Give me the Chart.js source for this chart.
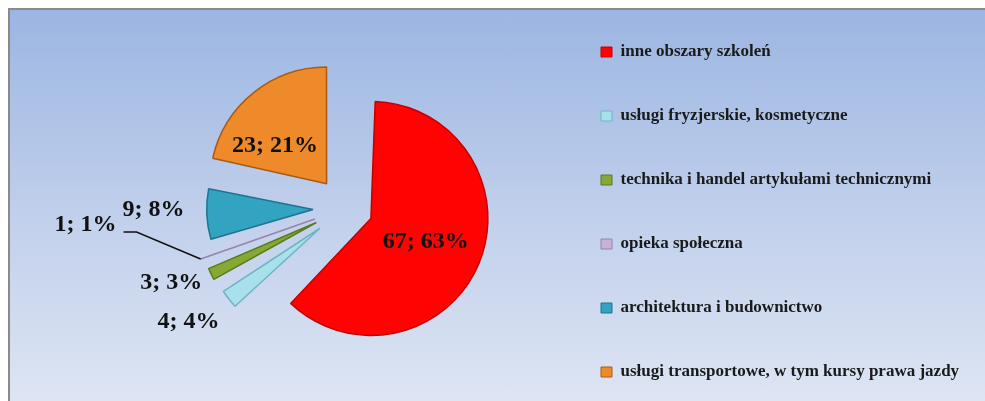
<!DOCTYPE html>
<html>
<head>
<meta charset="utf-8">
<script src="https://cdn.jsdelivr.net/npm/chart.js@4.4.1/dist/chart.umd.min.js"></script>
<style>
    html, body {
        margin: 0;
        padding: 0;
        width: 985px;
        height: 401px;
        overflow: hidden;
        background: #ffffff;
    }
    .frame {
        position: absolute;
        left: 8px;
        top: 8px;
        width: 990px;
        height: 400px;
        border-left: 2px solid #8a8a8a;
        border-top: 2px solid #8a8a8a;
        background: linear-gradient(to bottom, #9cb6e2 0%, #c3d1ec 55%, #dfe6f4 100%);
    }
    .chart-box {
        position: absolute;
        left: 0;
        top: -17px;
        width: 985px;
        height: 450px;
    }
</style>
</head>
<body>
<div class="frame"></div>
<div class="chart-box"><canvas id="pieBig"></canvas></div>
<div class="chart-box"><canvas id="pieMain"></canvas></div>

<script>
// Data
const categories = [
    'inne obszary szkoleń',
    'usługi fryzjerskie, kosmetyczne',
    'technika i handel artykułami technicznymi',
    'opieka społeczna',
    'architektura i budownictwo',
    'usługi transportowe, w tym kursy prawa jazdy'
];
const counts = [67, 4, 3, 1, 9, 23];

// Styles
const sliceColors = ['#ff0202', '#a8e1ec', '#86a834', '#c9b2d8', '#33a3c2', '#ef8a2b'];
const sliceBorders = ['#c40000', '#6fb3c2', '#5c7a1c', '#9a82aa', '#1f7390', '#a85a16'];
// explode distance passed to Chart.js (it moves a slice by offset / 4)
const sliceOffsets = [108, 132, 132, 132, 132, 124];
// Chart.js grows exploded slices, so the wide one is drawn by a second pie with its own radius
const sliceLayer = ['main', 'main', 'main', 'main', 'main', 'big'];
const layerRadius = { main: 90, big: 116 };
// label placement: distance from pie centre (x main radius) and turn from mid angle (deg)
const labelDist = [0.96, 2.16, 2.11, 2.9, 2.14, 1.05];
const labelTurn = [0, 2, 3, 15.6, 2, -10];

const total = counts.reduce((a, b) => a + b, 0);
const serif = '"Liberation Serif", "Times New Roman", serif';

// Draw "value; percent" labels, with a leader line for the far one
const sliceLabels = {
    id: 'sliceLabels',
    afterDatasetsDraw(chart) {
        const ctx = chart.ctx;
        const meta = chart.getDatasetMeta(0);
        ctx.save();
        ctx.font = 'bold 24px ' + serif;
        ctx.fillStyle = '#111111';
        ctx.textAlign = 'center';
        ctx.textBaseline = 'middle';
        meta.data.forEach((arc, i) => {
            const p = arc.getProps(['x', 'y', 'startAngle', 'endAngle', 'outerRadius', 'circumference']);
            const mid = (p.startAngle + p.endAngle) / 2;
            const ang = mid + labelTurn[i] * Math.PI / 180;
            const r = p.outerRadius * labelDist[i];
            const lx = p.x + Math.cos(ang) * r;
            const ly = p.y + Math.sin(ang) * r;
            const text = counts[i] + '; ' + Math.round(counts[i] / total * 100) + '%';
            ctx.fillText(text, lx, ly);

            if (labelDist[i] > 2.5) {
                // outer tip of the exploded slice, moved the same way ArcElement does it
                const q = sliceOffsets[i] / 4;
                const fix = 1 - Math.sin(Math.min(Math.PI, p.circumference));
                const tipR = q + p.outerRadius + q * fix;
                const half = ctx.measureText(text).width / 2;
                ctx.beginPath();
                ctx.moveTo(p.x + Math.cos(mid) * tipR, p.y + Math.sin(mid) * tipR);
                ctx.lineTo(lx + half + 20, ly + 7);
                ctx.lineTo(lx + half + 7, ly + 7);
                ctx.strokeStyle = '#111111';
                ctx.lineWidth = 1.5;
                ctx.stroke();
            }
        });
        ctx.restore();
    }
};

function makePie(canvasId, layer) {
    const isMain = layer === 'main';
    const ctx = document.getElementById(canvasId).getContext('2d');

    new Chart(ctx, {
        type: 'pie',
        data: {
            labels: categories,
            datasets: [{
                data: counts,
                backgroundColor: sliceColors.map((c, i) => sliceLayer[i] === layer ? c : 'rgba(0,0,0,0)'),
                borderColor: sliceBorders.map((c, i) => sliceLayer[i] === layer ? c : 'rgba(0,0,0,0)'),
                borderWidth: 1.5,
                offset: sliceOffsets,
                radius: layerRadius[layer]
            }]
        },
        options: {
            responsive: true,
            maintainAspectRatio: false,
            animation: false,
            events: [],
            layout: {
                // both pies end up centred on the same point
                padding: isMain ? { left: 138, right: 19 } : { left: 0, right: 293 }
            },
            plugins: {
                legend: {
                    display: isMain,
                    position: 'right',
                    align: 'center',
                    maxWidth: 412,
                    title: {
                        display: true,
                        text: '',
                        padding: { top: 7, bottom: 0 },
                        font: { size: 1, lineHeight: 1 }
                    },
                    labels: {
                        boxWidth: 11,
                        boxHeight: 10,
                        padding: 47,
                        color: '#1a1a1a',
                        font: {
                            family: serif,
                            size: 17,
                            weight: 'bold'
                        },
                        generateLabels(chart) {
                            const items = Chart.overrides.pie.plugins.legend.labels.generateLabels(chart);
                            items.forEach((item, i) => {
                                item.fillStyle = sliceColors[i];
                                item.strokeStyle = sliceBorders[i];
                                item.lineWidth = 1;
                            });
                            return items;
                        }
                    }
                },
                tooltip: {
                    enabled: false
                }
            }
        },
        plugins: isMain ? [sliceLabels] : []
    });
}

document.addEventListener('DOMContentLoaded', function() {
    makePie('pieBig', 'big');
    makePie('pieMain', 'main');
});
</script>
</body>
</html>
